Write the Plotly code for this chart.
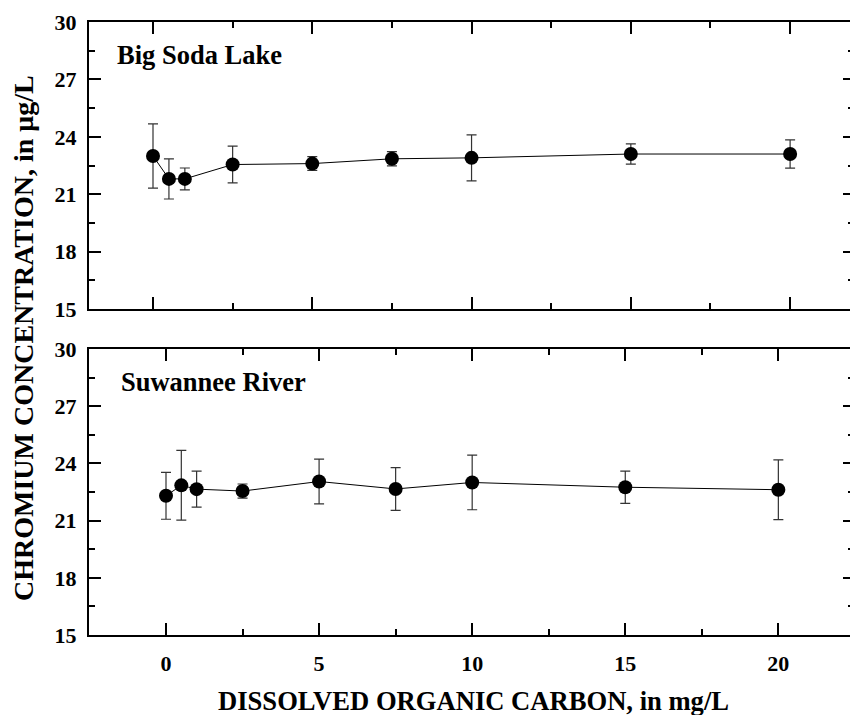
import plotly.graph_objects as go

# ---- data ----
doc = [0, 0.5, 1, 2.5, 5, 7.5, 10, 15, 20]
soda_cr = [23.0, 21.8, 21.8, 22.55, 22.6, 22.85, 22.9, 23.1, 23.1]
soda_err = [1.68, 1.05, 0.57, 0.96, 0.36, 0.37, 1.2, 0.53, 0.74]
suw_cr = [22.3, 22.85, 22.65, 22.55, 23.05, 22.66, 23.0, 22.75, 22.62]
suw_err = [1.23, 1.83, 0.94, 0.37, 1.17, 1.12, 1.43, 0.85, 1.57]
panel_labels = ["Big Soda Lake", "Suwannee River"]
y_ticks = [15, 18, 21, 24, 27, 30]
x_ticks = [0, 5, 10, 15, 20]

W, H = 850, 715
FONT = "Liberation Serif, Times New Roman, serif"

fig = go.Figure()

def add_series(x, y, e, xa, ya):
    fig.add_trace(go.Scatter(
        x=x, y=y, xaxis=xa, yaxis=ya, mode="lines+markers",
        line=dict(color="black", width=1),
        marker=dict(size=14, color="black"),
        error_y=dict(type="data", array=e, visible=True, color="#333333",
                     thickness=1.2, width=5),
        showlegend=False, hoverinfo="skip"))

add_series(doc, soda_cr, soda_err, "x", "y")
add_series(doc, suw_cr, suw_err, "x2", "y2")

# dummy invisible traces for right-side tick axes
fig.add_trace(go.Scatter(x=[None], y=[None], xaxis="x", yaxis="y3", showlegend=False))
fig.add_trace(go.Scatter(x=[None], y=[None], xaxis="x2", yaxis="y4", showlegend=False))

x0 = 89 / W
top_dom = [1 - 309 / H, 1 - 22 / H]
bot_dom = [1 - 635 / H, 1 - 349 / H]

tickfont = dict(family=FONT, size=22, color="black", weight="bold")

common_x = dict(showgrid=False, zeroline=False, showline=True, linecolor="black",
                linewidth=2, mirror="ticks", ticks="inside", ticklen=12, tickwidth=2,
                tickcolor="black", tickvals=x_ticks, automargin=False,
                minor=dict(dtick=2.5, tick0=0, ticks="inside", ticklen=6,
                           tickwidth=2, tickcolor="black"),
                tickfont=tickfont)
common_y = dict(showgrid=False, zeroline=False, showline=True, linecolor="black",
                linewidth=2, mirror=False, ticks="inside", ticklen=12, tickwidth=2,
                tickcolor="black", tickvals=y_ticks, range=[15, 30], automargin=False,
                minor=dict(dtick=1.5, tick0=15, ticks="inside", ticklen=6,
                           tickwidth=2, tickcolor="black"),
                tickfont=tickfont, ticklabelstandoff=6)
right_y = dict(showgrid=False, zeroline=False, showline=False, side="right",
               ticks="inside", ticklen=7, tickwidth=2, tickcolor="black",
               tickvals=y_ticks, range=[15, 30], showticklabels=False, automargin=False,
               minor=dict(dtick=1.5, tick0=15, ticks="inside", ticklen=2,
                          tickwidth=2, tickcolor="black"))

fig.update_layout(
    width=W, height=H,
    margin=dict(l=0, r=0, t=0, b=0, pad=0, autoexpand=False),
    paper_bgcolor="white", plot_bgcolor="white",
    font=dict(family=FONT, color="black"),
    xaxis=dict(**common_x, domain=[x0, 1], anchor="y",
               range=[-2.009, 21.88], showticklabels=False),
    yaxis=dict(**common_y, domain=top_dom, anchor="x"),
    xaxis2=dict(**common_x, domain=[x0, 1], anchor="y2",
                range=[-2.515, 22.34], showticklabels=True, ticklabelstandoff=8),
    yaxis2=dict(**common_y, domain=bot_dom, anchor="x2"),
    yaxis3=dict(**right_y, overlaying="y", anchor="x"),
    yaxis4=dict(**right_y, overlaying="y2", anchor="x2"),
)

ann_font = dict(family=FONT, size=26.5, color="black", weight="bold")
fig.add_annotation(text=panel_labels[0], xref="x domain", yref="y domain",
                   x=(115 - 89) / 761, y=(309 - 55) / 287, xanchor="left",
                   yanchor="middle", showarrow=False, font=ann_font)
fig.add_annotation(text=panel_labels[1], xref="x2 domain", yref="y2 domain",
                   x=(119 - 89) / 761, y=(635 - 382) / 286, xanchor="left",
                   yanchor="middle", showarrow=False, font=ann_font)
fig.add_annotation(text="DISSOLVED ORGANIC CARBON, in mg/L", xref="paper", yref="paper",
                   x=473 / W, y=1 - 701 / H, xanchor="center", yanchor="middle",
                   showarrow=False, font=dict(family=FONT, size=26.6, color="black", weight="bold"))
fig.add_annotation(text="CHROMIUM CONCENTRATION, in \u03bcg/L", xref="paper", yref="paper",
                   x=24 / W, y=1 - 338 / H, xanchor="center", yanchor="middle",
                   textangle=-90, showarrow=False,
                   font=dict(family=FONT, size=28, color="black", weight="bold"))

fig.write_html("out.html")
